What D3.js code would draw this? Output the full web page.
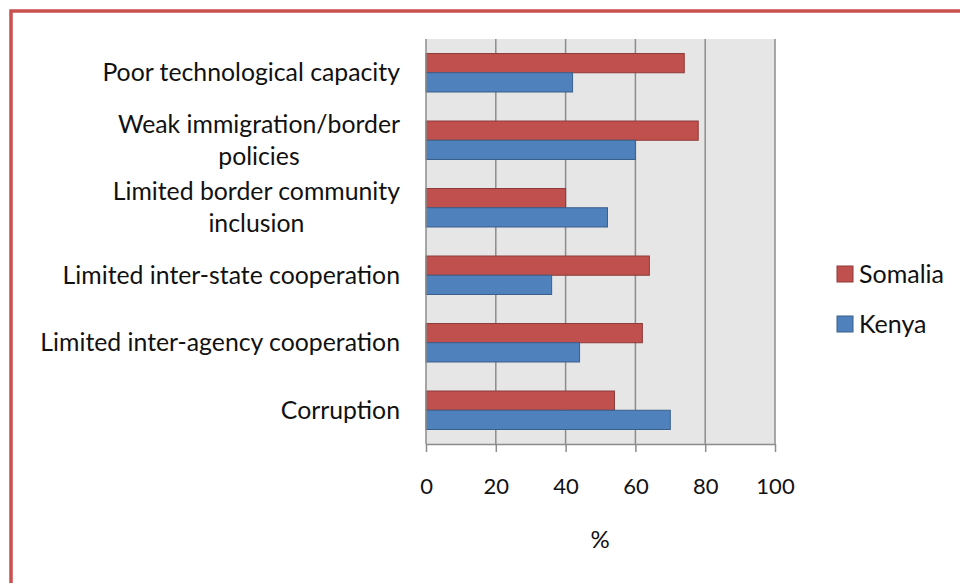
<!DOCTYPE html>
<meta charset="utf-8">
<style>
body { margin: 0; background: #fff; }
text { font-family: Lato, "Open Sans", sans-serif; fill: #111; }
.grid line { stroke: #8c8c8c; stroke-width: 1.5; }
.axis path, .axis line { stroke: #8c8c8c; stroke-width: 1.5; }
</style>
<body>
<svg width="960" height="583"></svg>
<script src="https://cdn.jsdelivr.net/npm/d3@7"></script>
<script>

var categories = [
  "Poor technological capacity",
  "Weak immigration/border\npolicies",
  "Limited border community\ninclusion",
  "Limited inter-state cooperation",
  "Limited inter-agency cooperation",
  "Corruption"
];
var seriesNames = ["Somalia", "Kenya"];
var somalia = [74, 78, 40, 64, 62, 54];
var kenya = [42, 60, 52, 36, 44, 70];
var xTicks = [0, 20, 40, 60, 80, 100];

var colors = { Somalia: "#c0504d", Kenya: "#4f81bd" };
var strokes = { Somalia: "#8e3b39", Kenya: "#3a5f8c" };

var svg = d3.select("svg");

// outer red frame (runs off the right and bottom)
svg.append("rect")
    .attr("x", 11).attr("y", 11)
    .attr("width", 1000).attr("height", 640)
    .attr("fill", "none")
    .attr("stroke", "#c9504f")
    .attr("stroke-width", 3.5);

var x = d3.scaleLinear().domain([0, 100]).range([426, 775]);

var y = d3.scaleBand()
    .domain(categories)
    .range([39, 444])
    .paddingInner(0.43)
    .paddingOuter(0.215);

var ySub = d3.scaleBand().domain(seriesNames).range([0, y.bandwidth()]);

// plot background
svg.append("rect")
    .attr("x", x(0)).attr("y", 39)
    .attr("width", x(100) - x(0)).attr("height", 444 - 39)
    .attr("fill", "#e6e6e6");

// gridlines
svg.append("g")
    .attr("class", "grid")
    .selectAll("line")
    .data(xTicks.slice(1))
    .enter().append("line")
      .attr("x1", function(d) { return x(d); })
      .attr("x2", function(d) { return x(d); })
      .attr("y1", 39).attr("y2", 444);

// bars
var rows = categories.map(function(c, i) {
  return { cat: c, values: [{ s: "Somalia", v: somalia[i] }, { s: "Kenya", v: kenya[i] }] };
});

var groups = svg.append("g").selectAll("g")
    .data(rows)
    .enter().append("g")
      .attr("transform", function(d) { return "translate(0," + y(d.cat) + ")"; });

groups.selectAll("rect")
    .data(function(d) { return d.values; })
    .enter().append("rect")
      .attr("x", x(0))
      .attr("y", function(d) { return ySub(d.s); })
      .attr("width", function(d) { return x(d.v) - x(0); })
      .attr("height", ySub.bandwidth())
      .attr("fill", function(d) { return colors[d.s]; })
      .attr("stroke", function(d) { return strokes[d.s]; })
      .attr("stroke-width", 1);

// x axis
var xAxis = svg.append("g")
    .attr("class", "axis")
    .attr("transform", "translate(0,444)")
    .call(d3.axisBottom(x).tickValues(xTicks).tickSize(8).tickSizeOuter(0).tickPadding(26));
xAxis.selectAll("text")
    .style("font-size", "22px")
    .attr("fill", "#111");

// left axis line
svg.append("line")
    .attr("x1", x(0)).attr("x2", x(0))
    .attr("y1", 39).attr("y2", 444)
    .attr("stroke", "#8c8c8c").attr("stroke-width", 1.5);

// category labels (block right-aligned, lines centered)
var labelRight = 400;
categories.forEach(function(c) {
  var lines = c.split("\n");
  var cy = y(c) + y.bandwidth() / 2;
  var t = svg.append("text")
      .style("font-size", "24.8px")
      .attr("text-anchor", "middle");
  lines.forEach(function(l, j) {
    t.append("tspan")
        .attr("y", cy + (j - (lines.length - 1) / 2) * 32)
        .attr("dy", "0.35em")
        .text(l);
  });
  var w = d3.max(t.selectAll("tspan").nodes(), function(n) { return n.getComputedTextLength(); });
  t.selectAll("tspan").attr("x", labelRight - w / 2);
});

// axis title
svg.append("text")
    .attr("x", 600).attr("y", 540)
    .attr("dy", "0.35em")
    .attr("text-anchor", "middle")
    .style("font-size", "24px")
    .text("%");

// legend
var legend = svg.append("g").selectAll("g")
    .data(seriesNames)
    .enter().append("g")
      .attr("transform", function(d, i) { return "translate(837," + (266 + i * 50) + ")"; });

legend.append("rect")
    .attr("width", 16).attr("height", 16)
    .attr("fill", function(d) { return colors[d]; })
    .attr("stroke", function(d) { return strokes[d]; });

legend.append("text")
    .attr("x", 22).attr("y", 8)
    .attr("dy", "0.35em")
    .style("font-size", "25px")
    .text(function(d) { return d; });

</script>
</body>
